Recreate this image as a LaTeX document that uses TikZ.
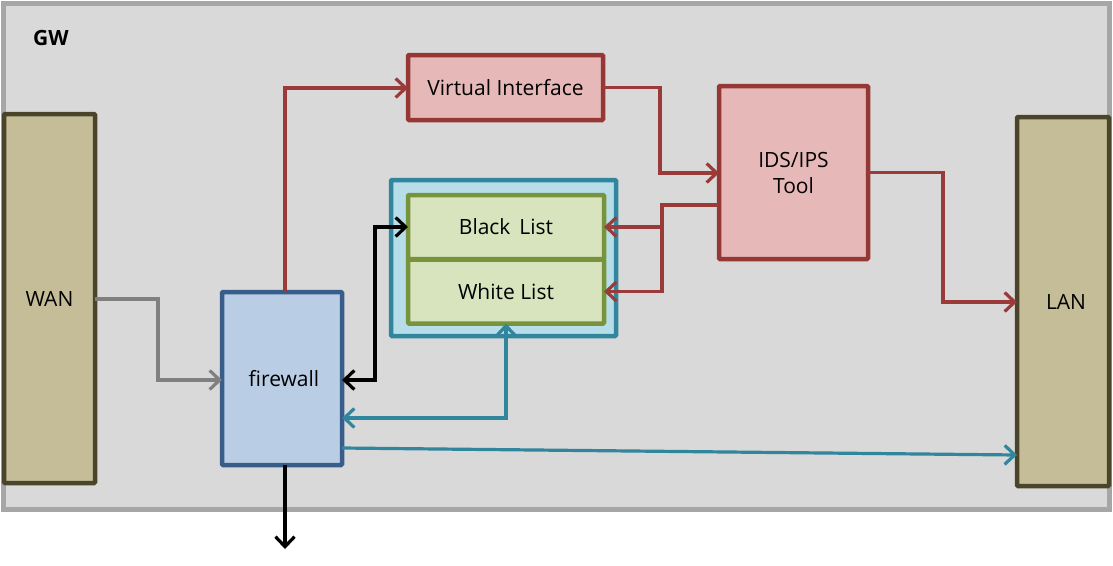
\documentclass[tikz,border=0pt]{standalone}
\usepackage{fontspec}
\setmainfont{Open Sans}
\usetikzlibrary{arrows.meta}
\definecolor{gwfill}{HTML}{D9D9D9}
\definecolor{gwline}{HTML}{A6A6A6}
\definecolor{tanfill}{HTML}{C4BD97}
\definecolor{tanline}{HTML}{4A452A}
\definecolor{bluefill}{HTML}{B9CDE5}
\definecolor{blueline}{HTML}{385D8A}
\definecolor{pinkfill}{HTML}{E6B9B8}
\definecolor{pinkline}{HTML}{953735}
\definecolor{cyanfill}{HTML}{B7DEE8}
\definecolor{cyanline}{HTML}{31859C}
\definecolor{greenfill}{HTML}{D7E4BD}
\definecolor{greenline}{HTML}{77933C}
\definecolor{grayarrow}{HTML}{808080}
\definecolor{redarrow}{HTML}{9B3B39}
\tikzset{
  box/.style={draw, line width=4.5pt, inner sep=0pt, outer sep=0pt, rounded corners=1pt, font=\fontsize{21}{26}\selectfont, align=center},
  tanbox/.style={box, fill=tanfill, draw=tanline},
  bluebox/.style={box, fill=bluefill, draw=blueline},
  pinkbox/.style={box, fill=pinkfill, draw=pinkline},
  listbox/.style={box, fill=greenfill, draw=greenline},
  conn/.style={line width=3.2pt, -{Straight Barb[length=10pt,width=19pt,line width=3.2pt]}},
  bconn/.style={line width=3.2pt, {Straight Barb[length=10pt,width=19pt,line width=3.2pt]}-{Straight Barb[length=10pt,width=19pt,line width=3.2pt]}},
}
\begin{document}
\begin{tikzpicture}[x=1pt,y=-1pt]
\useasboundingbox (0,0) rectangle (1113,565);
\fill[white] (0,0) rectangle (1113,565);
% GW frame
\node[draw=gwline, fill=gwfill, line width=4.5pt, minimum width=1106pt, minimum height=506pt, inner sep=0pt] (gw) at (556.5,256.5) {};
\node[font=\bfseries\fontsize{21}{24}\selectfont, anchor=center] (gwl) at (51,38) {GW};
% boxes
\node[tanbox, minimum width=91pt, minimum height=369pt] (wan) at (49.5,298.5) {WAN};
\node[tanbox, minimum width=92pt, minimum height=369pt] (lan) at (1063,301.5) {\hspace*{6pt}LAN};
\node[bluebox, minimum width=120pt, minimum height=173pt] (fw) at (282,378.5) {\hspace*{4pt}firewall};
\node[pinkbox, minimum width=195pt, minimum height=65pt] (vi) at (505.5,87.5) {Virtual Interface};
\node[pinkbox, minimum width=149pt, minimum height=173pt] (ids) at (793.5,172.5) {IDS/IPS\\[0pt]Tool};
\node[box, fill=cyanfill, draw=cyanline, minimum width=225pt, minimum height=156pt] (lists) at (503.5,258) {};
\node[listbox, minimum width=196pt, minimum height=64pt] (bl) at (506,227) {Black \,List};
\node[listbox, minimum width=196pt, minimum height=64pt] (wl) at (506,291.5) {White List};
% coordinates
\coordinate (c1) at (158,380);
\coordinate (c2) at (285,88);
\coordinate (c3) at (660,173);
\coordinate (j) at (662,205);
\coordinate (jb) at (662,227);
\coordinate (c5) at (943,173);
\coordinate (lanin) at (1017,302);
\coordinate (fwb) at (375,380);
\coordinate (fwt) at (342,418);
\coordinate (fwo) at (342,448);
\coordinate (lano) at (1017,455);
\coordinate (fwd) at (285,465);
\coordinate (out) at (285,549);
\coordinate (fwr) at (342,380);
% connectors
\draw[conn, grayarrow] (wan.east |- 0,299) -| (c1) -- (fw.west |- c1);
\draw[conn, redarrow] (fw.north -| c2) -- (c2) -- (vi.west |- c2);
\draw[conn, redarrow] (vi.east) -| (c3) -- (ids.west |- c3);
\draw[conn, redarrow] (ids.west |- j) -- (j) |- (wl.east);
\draw[conn, redarrow] (jb) -- (bl.east);
\draw[conn, redarrow] (ids.east) -| (c5) |- (lanin);
\draw[bconn, black] (fwr) -| (fwb) |- (bl.west);
\draw[bconn, cyanline] (wl.south) |- (fwt);
\draw[conn, cyanline] (fwo) -- (lano);
\draw[conn, black] (fwd) -- (out);
\end{tikzpicture}
\end{document}
